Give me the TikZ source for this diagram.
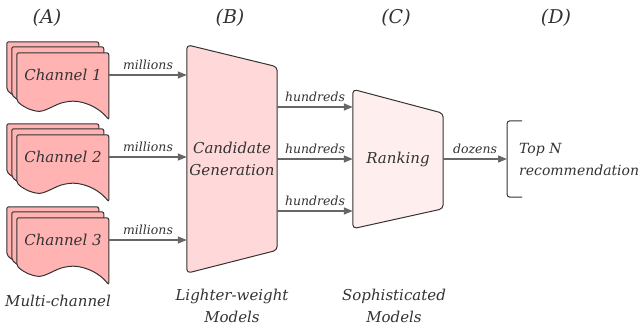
\documentclass[tikz,border=0pt]{standalone}
\usepackage{fontspec}
\setmainfont{DejaVu Serif}
\usetikzlibrary{arrows.meta,calc,backgrounds}

\definecolor{chanfill}{HTML}{FFB3B3}
\definecolor{candfill}{HTML}{FFD9D9}
\definecolor{rankfill}{HTML}{FFEEEE}
\definecolor{edgegray}{HTML}{666666}
\definecolor{linedark}{HTML}{333333}
\definecolor{textdark}{HTML}{333333}

\tikzset{
	txt/.style={text=textdark, font=\fontsize{15}{22}\selectfont\itshape},
	stagetext/.style={txt, align=center, inner sep=0pt},
	title/.style={text=textdark, font=\fontsize{19}{22}\selectfont\itshape},
	flow/.style={draw=edgegray, line width=1.3pt, -{Triangle[length=9pt,width=7pt]}},
	flowlabel/.style={text=textdark, font=\fontsize{12.5}{15}\selectfont\itshape, above=1pt},
	sheet/.style={draw=linedark, fill=chanfill, line width=1pt, rounded corners=2pt},
	stagebox/.style={draw=linedark, line width=1pt, rounded corners=4pt},
	bracket/.style={draw=linedark, line width=1pt, rounded corners=3pt},
}

\newcommand{\docsheet}[1]{%
	\draw[sheet, shift={(#1)}] (0,0) -- (92,0) -- (92,67)
		.. controls (80,52) and (62,47) .. (50,49)
		.. controls (38,51) and (28,60) .. (18,58)
		.. controls (10,56) and (4,52) .. (0,48) -- cycle;
}

\newcommand{\chanstack}[1]{%
	\docsheet{$(#1.north west)+(-10,-11)$}
	\docsheet{$(#1.north west)+(-5,-6)$}
	\docsheet{#1.north west}
}

\begin{document}
\begin{tikzpicture}[x=1pt, y=-1pt]
			
			\useasboundingbox (0,0) rectangle (644,329);
			
			\node[title] (colA) at (47,18) {(A)};
			\node[title] (colB) at (230,18) {(B)};
			\node[title] (colC) at (396,18) {(C)};
			\node[title] (colD) at (556,18) {(D)};
			
			\node[stagetext, minimum width=92pt, minimum height=44pt] 
			(chan1) at (63,75) {Channel 1};
			\node[stagetext, minimum width=92pt, minimum height=44pt] 
			(chan2) at (63,157) {Channel 2};
			\node[stagetext, minimum width=92pt, minimum height=44pt] 
			(chan3) at (63,240) {Channel 3};
			
			\node[stagetext, minimum width=90pt, minimum height=228pt] 
			(candgen) at (232,159) {Candidate\\Generation};
			
			\node[stagetext, minimum width=90pt, minimum height=139pt] 
			(ranking) at (398,159) {Ranking};
			
			\node[txt, font=\fontsize{14}{22}\selectfont\itshape, align=left, anchor=west, minimum height=76pt, inner xsep=12pt, inner ysep=0pt] 
			(topn) at (507,159) {Top N\\recommendation};
			
			\begin{scope}[on background layer]
				\chanstack{chan1}
				\chanstack{chan2}
				\chanstack{chan3}
				\draw[stagebox, fill=candfill] (candgen.north west) -- ([yshift=-22pt]candgen.north east) 
					-- ([yshift=23pt]candgen.south east) -- (candgen.south west) -- cycle;
				\draw[stagebox, fill=rankfill] (ranking.north west) -- ([yshift=-24pt]ranking.north east) 
					-- ([yshift=20pt]ranking.south east) -- (ranking.south west) -- cycle;
			\end{scope}
			
			\draw[bracket] ([xshift=15pt]topn.north west) -- (topn.north west) 
				-- (topn.south west) -- ([xshift=15pt]topn.south west);
			
			\draw[flow] (chan1.east) -- (chan1.east -| candgen.west) node[flowlabel, midway]{millions};
			\draw[flow] (chan2.east) -- (chan2.east -| candgen.west) node[flowlabel, midway]{millions};
			\draw[flow] (chan3.east) -- (chan3.east -| candgen.west) node[flowlabel, midway]{millions};
			
			\foreach \dy in {52,0,-52}
				\draw[flow] ([yshift=\dy pt]candgen.east) -- ([yshift=\dy pt]ranking.west) node[flowlabel, midway]{hundreds};
			
			\draw[flow] (ranking.east) -- (topn.west) node[flowlabel, midway]{dozens};
			
			\node[txt] (lblA) at (58,301) {Multi-channel};
			\node[txt, align=center] (lblB) at (232,306) {Lighter-weight\\Models};
			\node[txt, align=center] (lblC) at (394,306) {Sophisticated\\Models};
			
		\end{tikzpicture}
\end{document}
